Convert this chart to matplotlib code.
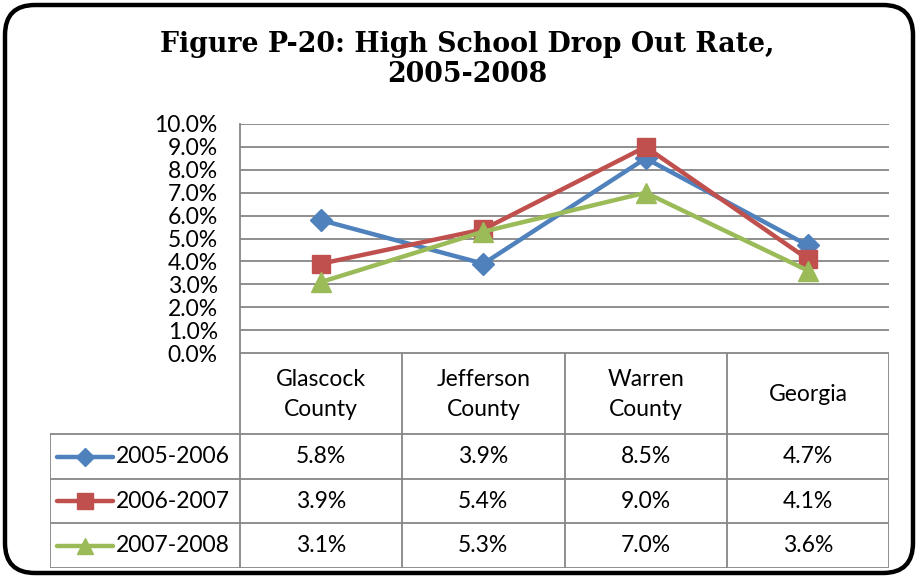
import matplotlib.pyplot as plt
from matplotlib.patches import FancyBboxPatch

# data
categories = ["Glascock\nCounty", "Jefferson\nCounty", "Warren\nCounty", "Georgia"]
series_names = ["2005-2006", "2006-2007", "2007-2008"]
rate_0506 = [5.8, 3.9, 8.5, 4.7]
rate_0607 = [3.9, 5.4, 9.0, 4.1]
rate_0708 = [3.1, 5.3, 7.0, 3.6]
y_ticks = [0, 1, 2, 3, 4, 5, 6, 7, 8, 9, 10]

series = [rate_0506, rate_0607, rate_0708]
colors = ["#4F81BD", "#C0504D", "#9BBB59"]
markers = ["D", "s", "^"]
msizes = [11, 13, 14]

W, H = 918, 577
fig = plt.figure(figsize=(W / 100, H / 100), dpi=100)
txt_font = "Lato"
txt_size = 16.5
grid_col = "#868686"


def fx(px):
    return px / W


def fy(py):
    return 1 - py / H


# rounded frame
frame = FancyBboxPatch((0.05, 0.04), 9.08, 5.68,
                       boxstyle="round,pad=0,rounding_size=0.3",
                       transform=fig.dpi_scale_trans, fill=False,
                       edgecolor="black", linewidth=3.2)
fig.patches.append(frame)

# title
fig.text(fx(467), fy(44), "Figure P-20: High School Drop Out Rate,",
         ha="center", va="center", fontsize=19.3, fontweight="bold",
         family="DejaVu Serif")
fig.text(fx(467), fy(74), "2005-2008", ha="center", va="center",
         fontsize=19.3, fontweight="bold", family="DejaVu Serif")

# plot area
left, right, top, bottom = 240, 889, 124, 353
ax = fig.add_axes([fx(left), fy(bottom), fx(right - left), (bottom - top) / H])
x = list(range(len(categories)))
for vals, c, m, ms in zip(series, colors, markers, msizes):
    ax.plot(x, vals, color=c, linewidth=3.2, marker=m, markersize=ms,
            markerfacecolor=c, markeredgecolor=c, clip_on=False, zorder=3)
ax.set_xlim(-0.5, len(categories) - 0.5)
ax.set_ylim(0, 10)
ax.set_yticks(y_ticks)
ax.set_yticklabels([f"{v:.1f}%" for v in y_ticks], fontsize=txt_size,
                   family=txt_font)
ax.tick_params(axis="y", length=0, pad=16)
ax.set_xticks([])
ax.grid(axis="y", color=grid_col, linewidth=1.3)
ax.set_axisbelow(True)
for s in ["top", "right", "bottom"]:
    ax.spines[s].set_visible(False)
ax.spines["left"].set_color(grid_col)
ax.spines["left"].set_linewidth(1.3)

# data table below the plot
col_w = (right - left) / len(categories)
leg_w = (50 - left) / col_w  # negative width of legend column
t_left, t_bottom = 50, 568
tab = fig.add_axes([fx(t_left), fy(t_bottom), fx(right - t_left),
                    (t_bottom - bottom) / H])
x0 = -0.5 + leg_w
tab.set_xlim(x0, len(categories) - 0.5)
tab.set_ylim(t_bottom - bottom, 0)
tab.axis("off")
row_edges = [0, 81, 126, 170, 215]
lk = dict(color=grid_col, linewidth=1.3, solid_capstyle="projecting")

# header row
tab.plot([-0.5, len(categories) - 0.5], [0, 0], **lk)
for i in range(len(categories) + 1):
    tab.plot([i - 0.5, i - 0.5], [0, row_edges[-1]], **lk)
for r in row_edges[1:]:
    tab.plot([x0, len(categories) - 0.5], [r, r], **lk)
tab.plot([x0, x0], [row_edges[1], row_edges[-1]], **lk)

for i, cat in enumerate(categories):
    tab.text(i, row_edges[1] / 2 + 1, cat, ha="center", va="center",
             fontsize=txt_size, family=txt_font, linespacing=1.55)

px_unit = col_w
for j, (name, vals, c, m, ms) in enumerate(zip(series_names, series, colors,
                                                markers, msizes)):
    yc = (row_edges[j + 1] + row_edges[j + 2]) / 2
    lx0 = x0 + 7 / px_unit
    lx1 = x0 + 63 / px_unit
    tab.plot([lx0, lx1], [yc, yc], color=c, linewidth=3.2,
             solid_capstyle="round")
    tab.plot([(lx0 + lx1) / 2], [yc], marker=m, markersize=ms * 0.85,
             color=c, markeredgecolor=c)
    tab.text(x0 + 66 / px_unit, yc, name, ha="left", va="center",
             fontsize=txt_size, family=txt_font)
    for i, v in enumerate(vals):
        tab.text(i, yc, f"{v:.1f}%", ha="center", va="center",
                 fontsize=txt_size, family=txt_font)

fig.savefig("out.png", dpi=100)
